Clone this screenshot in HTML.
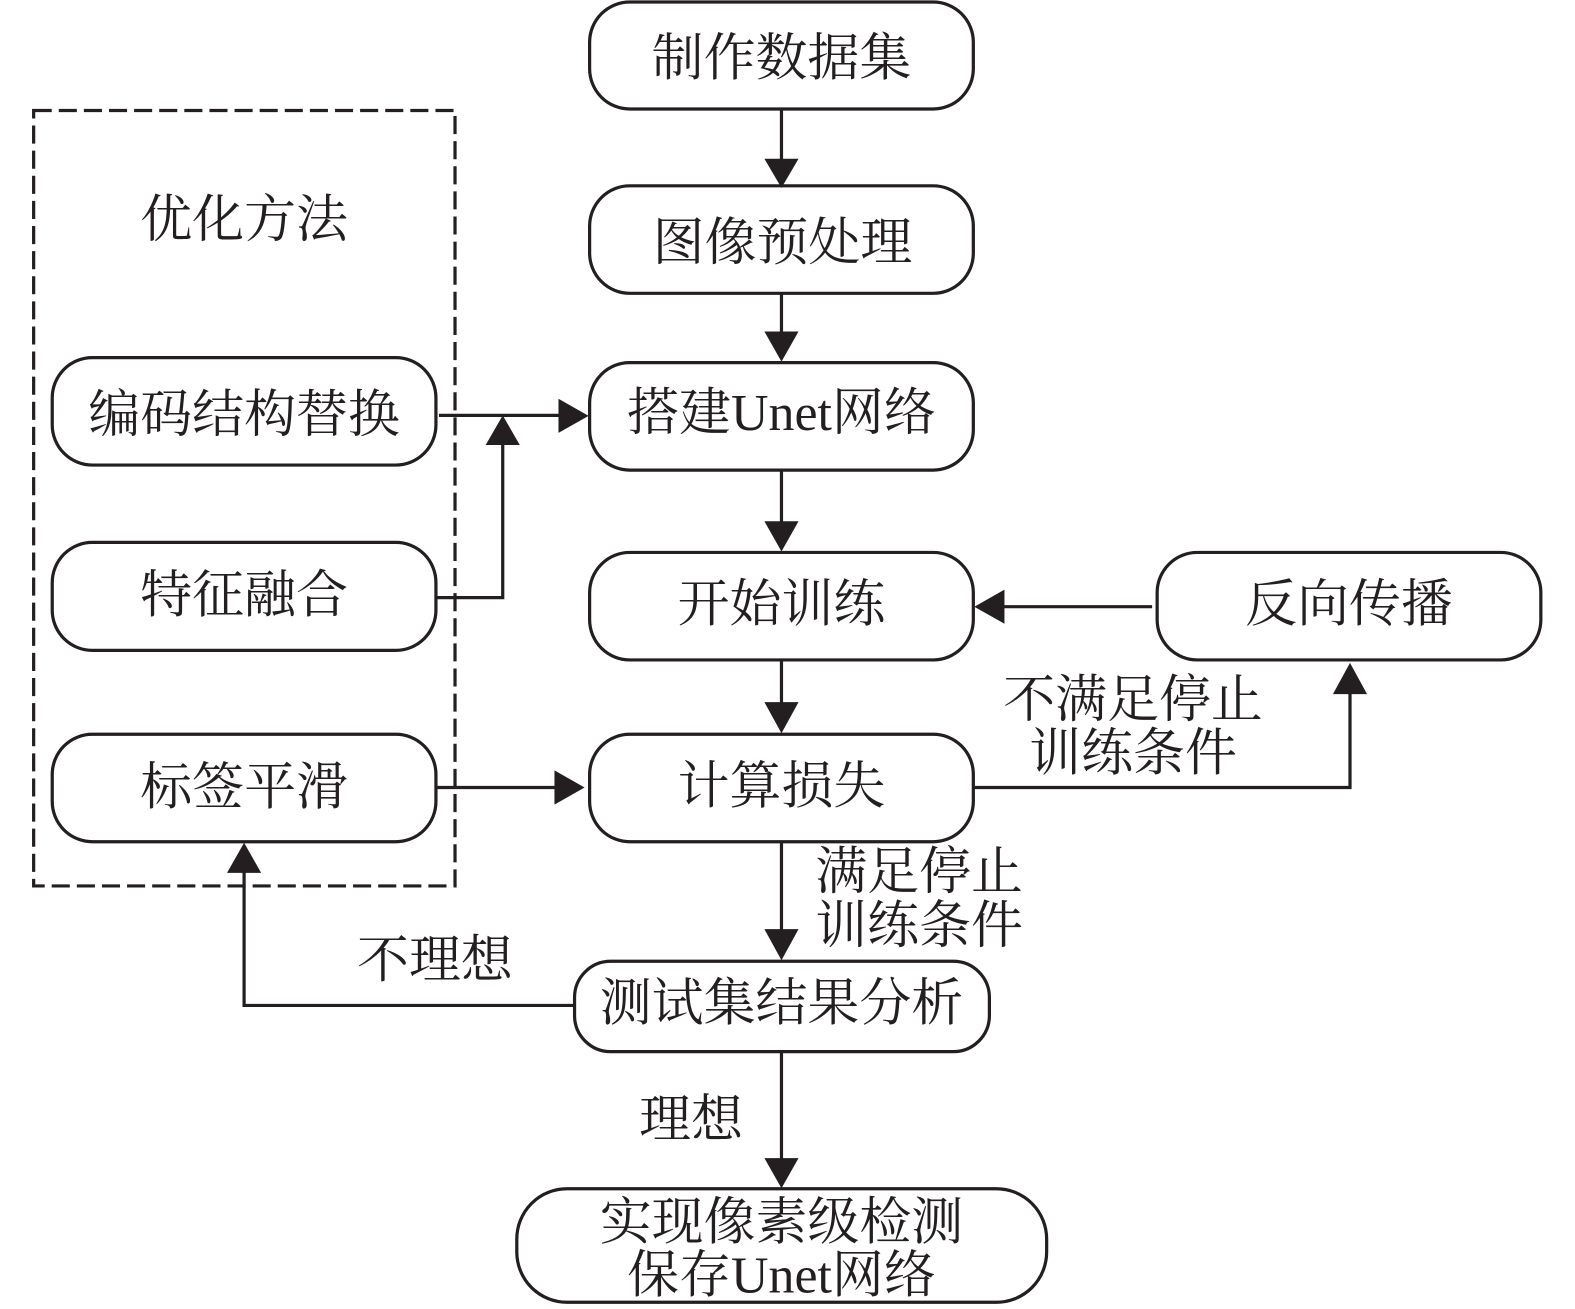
<!DOCTYPE html>
<html><head><meta charset="utf-8"><style>
html,body{margin:0;padding:0;background:#fff}
svg{display:block}
text{font-family:"Liberation Serif","Noto Serif CJK SC",serif;font-size:51.7px;fill:#231f20;text-anchor:middle}
rect{fill:none;stroke:#231f20;stroke-width:3.2}
path.l{fill:none;stroke:#231f20;stroke-width:3.2}
path.a{fill:#231f20;stroke:none}
</style></head><body>
<svg width="1575" height="1309" viewBox="0 0 1568 1303.2" preserveAspectRatio="none" xmlns="http://www.w3.org/2000/svg">
<rect x="33.5" y="110" width="419.5" height="772" style="stroke-dasharray:18 7"/>
<rect x="587" y="2" width="382" height="106.5" rx="40"/>
<rect x="587" y="185" width="382" height="107" rx="40"/>
<rect x="587" y="361" width="382" height="107" rx="40"/>
<rect x="587" y="550" width="382" height="107" rx="40"/>
<rect x="587" y="731" width="382" height="107" rx="40"/>
<rect x="572" y="957" width="413" height="90" rx="36"/>
<rect x="514.5" y="1183.5" width="527.5" height="113" rx="50"/>
<rect x="52" y="356" width="382" height="107" rx="40"/>
<rect x="52" y="540" width="382" height="107.5" rx="40"/>
<rect x="52" y="731" width="382" height="107" rx="40"/>
<rect x="1152" y="550" width="382" height="107" rx="40"/>

<path class="l" d="M437 413.5H560M434 595H500.5V440M434 784H556M1147 604H996M969 784H1344V688M572 1001H243V866M778 108V160M778 292V335M778 467V524M778 657V704M778 837V930M778 1046V1158"/>
<path class="a" d="M761 158H795L778 187ZM761 330H795L778 360ZM761 519H795L778 549ZM761 699H795L778 730ZM761 925H795L778 956ZM761 1153H795L778 1183ZM556 397V431L586 414ZM483.5 443H517.5L500.5 413.5ZM552 767V801L582 784ZM1000 587V621L970 604ZM1327 691H1361L1344 660ZM226 869H260L243 839Z"/>

<text x="778" y="75">制作数据集</text>
<text x="779" y="259">图像预处理</text>
<text x="778" y="428">搭建Unet网络</text>
<text x="778" y="619">开始训练</text>
<text x="778" y="800">计算损失</text>
<text x="778" y="1016">测试集结果分析</text>
<text x="778" y="1234">实现像素级检测</text>
<text x="778" y="1287">保存Unet网络</text>
<text x="243" y="236">优化方法</text>
<text x="243" y="430">编码结构替换</text>
<text x="243" y="610">特征融合</text>
<text x="243" y="801">标签平滑</text>
<text x="1343" y="619">反向传播</text>
<text x="1128" y="714">不满足停止</text>
<text x="1128" y="767">训练条件</text>
<text x="915" y="885">满足停止</text>
<text x="915" y="939">训练条件</text>
<text x="433" y="973">不理想</text>
<text x="688" y="1132">理想</text>
</svg>
</body></html>
